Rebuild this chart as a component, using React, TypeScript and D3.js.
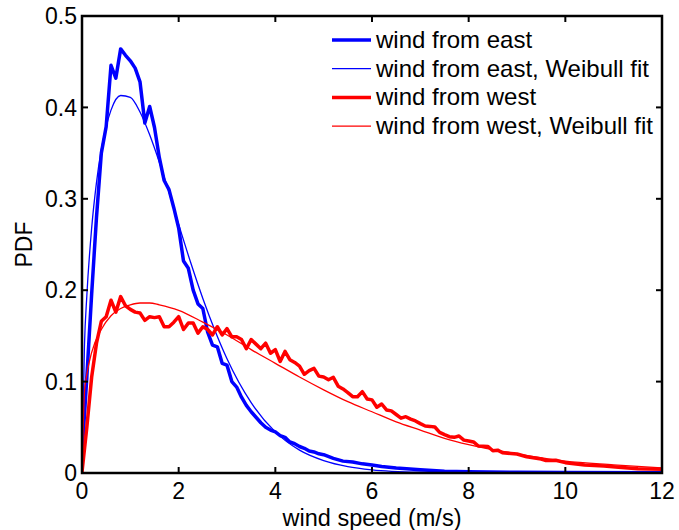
import React from 'react';
import * as d3 from 'd3';

// wind from east, histogram pdf
const eastSpeed = [0, 0.1, 0.2, 0.3, 0.4, 0.5, 0.6, 0.7, 0.8, 0.9, 1.0, 1.1, 1.2, 1.3, 1.4, 1.5, 1.6, 1.7, 1.8, 1.9, 2.0, 2.1, 2.2, 2.3, 2.4, 2.5, 2.6, 2.7, 2.8, 2.9, 3.0, 3.1, 3.2, 3.3, 3.4, 3.5, 3.6, 3.7, 3.8, 3.9, 4.0, 4.1, 4.2, 4.3, 4.4, 4.5, 4.6, 4.7, 4.8, 4.9, 5.0, 5.2, 5.4, 5.6, 5.8, 6.0, 6.2, 6.5, 7.0, 7.5, 8, 9, 10, 12];
const eastPdf = [0.02, 0.105, 0.196, 0.28, 0.35, 0.379, 0.446, 0.432, 0.464, 0.457, 0.451, 0.443, 0.428, 0.383, 0.401, 0.378, 0.345, 0.32, 0.31, 0.29, 0.268, 0.232, 0.224, 0.2, 0.185, 0.18, 0.154, 0.14, 0.138, 0.12, 0.118, 0.1, 0.094, 0.083, 0.074, 0.067, 0.061, 0.055, 0.05, 0.047, 0.045, 0.041, 0.039, 0.034, 0.032, 0.029, 0.027, 0.024, 0.023, 0.021, 0.02, 0.016, 0.013, 0.012, 0.01, 0.0088, 0.0072, 0.0055, 0.0035, 0.002, 0.0015, 0.0008, 0.0005, 0.0002];

// wind from east, Weibull fit
const eastFitSpeed = [0, 0.05, 0.1, 0.2, 0.3, 0.4, 0.5, 0.6, 0.8, 1.0, 1.2, 1.4, 1.6, 1.8, 2.0, 2.25, 2.5, 2.75, 3.0, 3.5, 4.0, 4.5, 5.0, 5.5, 6.0, 7.0, 8.0, 10, 12];
const eastFitPdf = [0, 0.138, 0.194, 0.268, 0.318, 0.354, 0.379, 0.397, 0.413, 0.411, 0.395, 0.37, 0.34, 0.307, 0.272, 0.23, 0.191, 0.156, 0.125, 0.077, 0.045, 0.025, 0.0136, 0.007, 0.0035, 0.0008, 0.0001, 0, 0];

// wind from west, histogram pdf
const westSpeed = [0, 0.1, 0.2, 0.3, 0.4, 0.5, 0.6, 0.7, 0.8, 0.9, 1.0, 1.1, 1.2, 1.3, 1.4, 1.5, 1.6, 1.7, 1.8, 1.9, 2.0, 2.1, 2.2, 2.3, 2.4, 2.5, 2.6, 2.7, 2.8, 2.9, 3.0, 3.1, 3.2, 3.3, 3.4, 3.5, 3.6, 3.7, 3.8, 3.9, 4.0, 4.1, 4.2, 4.3, 4.4, 4.5, 4.6, 4.7, 4.8, 4.9, 5.0, 5.1, 5.2, 5.3, 5.4, 5.5, 5.6, 5.7, 5.8, 5.9, 6.0, 6.1, 6.2, 6.3, 6.4, 6.5, 6.6, 6.7, 6.8, 6.9, 7.0, 7.1, 7.2, 7.3, 7.4, 7.5, 7.6, 7.7, 7.8, 7.9, 8.0, 8.1, 8.2, 8.4, 8.5, 8.6, 8.7, 9.0, 9.2, 9.5, 9.6, 9.8, 10.0, 10.4, 10.8, 11.1, 11.5, 12];
const westPdf = [0.001, 0.05, 0.105, 0.142, 0.166, 0.171, 0.189, 0.176, 0.193, 0.183, 0.179, 0.176, 0.175, 0.167, 0.171, 0.17, 0.171, 0.16, 0.16, 0.165, 0.171, 0.157, 0.164, 0.164, 0.153, 0.16, 0.157, 0.151, 0.16, 0.151, 0.158, 0.149, 0.149, 0.146, 0.136, 0.146, 0.141, 0.136, 0.142, 0.131, 0.135, 0.122, 0.133, 0.124, 0.121, 0.117, 0.108, 0.112, 0.1145, 0.106, 0.105, 0.102, 0.1047, 0.095, 0.092, 0.088, 0.0835, 0.0835, 0.089, 0.081, 0.08, 0.072, 0.0755, 0.069, 0.068, 0.064, 0.06, 0.0616, 0.059, 0.057, 0.054, 0.0514, 0.051, 0.0503, 0.0445, 0.042, 0.0397, 0.039, 0.0405, 0.036, 0.035, 0.034, 0.0295, 0.029, 0.0244, 0.025, 0.0222, 0.0208, 0.0178, 0.0153, 0.0136, 0.014, 0.0113, 0.0088, 0.0077, 0.0062, 0.0046, 0.004];

// wind from west, Weibull fit
const westFitSpeed = [0, 0.05, 0.1, 0.2, 0.4, 0.6, 0.8, 1.0, 1.2, 1.4, 1.6, 2.0, 2.5, 3.0, 3.5, 4.0, 4.5, 5.0, 5.5, 6.0, 6.5, 7.0, 7.5, 8.0, 9.0, 10, 11, 12];
const westFitPdf = [0, 0.088, 0.108, 0.132, 0.157, 0.172, 0.18, 0.184, 0.186, 0.186, 0.184, 0.178, 0.165, 0.151, 0.135, 0.12, 0.105, 0.091, 0.078, 0.067, 0.056, 0.047, 0.038, 0.031, 0.021, 0.013, 0.009, 0.0055];

const xTicks = [0, 2, 4, 6, 8, 10, 12];
const yTicks = [0, 0.1, 0.2, 0.3, 0.4, 0.5];
const yTickLabels = ['0', '0.1', '0.2', '0.3', '0.4', '0.5'];

const legendLabels = ['wind from east', 'wind from east, Weibull fit', 'wind from west', 'wind from west, Weibull fit'];

const zip = (xs: number[], ys: number[]) => xs.map((x, i) => [x, ys[i]] as [number, number]);

export default function App() {
    const width = 679;
    const height = 530;
    const margin = { left: 82, right: 17, top: 16, bottom: 57 };
    const font = '"Liberation Sans", Arial, Helvetica, sans-serif';

    const x = d3.scaleLinear().domain([0, 12]).range([margin.left, width - margin.right]);
    const y = d3.scaleLinear().domain([0, 0.5]).range([height - margin.bottom, margin.top]);

    const line = d3.line<[number, number]>().x(d => x(d[0])).y(d => y(d[1]));
    const smooth = d3.line<[number, number]>().x(d => x(d[0])).y(d => y(d[1])).curve(d3.curveMonotoneX);

    const series = [
        { d: line(zip(eastSpeed, eastPdf)), color: '#0000ff', w: 3.5 },
        { d: smooth(zip(eastFitSpeed, eastFitPdf)), color: '#0000ff', w: 1.3 },
        { d: line(zip(westSpeed, westPdf)), color: '#ff0000', w: 3.5 },
        { d: smooth(zip(westFitSpeed, westFitPdf)), color: '#ff0000', w: 1.3 },
    ];

    const x0 = margin.left;
    const x1 = width - margin.right;
    const y0 = height - margin.bottom;
    const y1 = margin.top;
    const tickLen = 6;

    return (
        <svg width={width} height={height} style={{ position: 'absolute', left: 0, top: 0, background: '#fff' }}>
            <defs>
                <clipPath id="plot">
                    <rect x={x0} y={y1} width={x1 - x0} height={y0 - y1} />
                </clipPath>
            </defs>

            <g clipPath="url(#plot)">
                {series.map((s, i) => (
                    <path key={i} d={s.d || ''} fill="none" stroke={s.color} strokeWidth={s.w} strokeLinejoin="round" />
                ))}
            </g>

            {/* frame */}
            <rect x={x0} y={y1} width={x1 - x0} height={y0 - y1} fill="none" stroke="#000" strokeWidth={2.5} />

            {/* ticks, inward on all sides */}
            {xTicks.map(t => (
                <g key={'x' + t}>
                    <line x1={x(t)} x2={x(t)} y1={y0} y2={y0 - tickLen} stroke="#000" strokeWidth={2} />
                    <line x1={x(t)} x2={x(t)} y1={y1} y2={y1 + tickLen} stroke="#000" strokeWidth={2} />
                    <text x={x(t)} y={y0 + 26} textAnchor="middle" fontSize={23} fontFamily={font} fill="#000">{t}</text>
                </g>
            ))}
            {yTicks.map((t, i) => (
                <g key={'y' + t}>
                    <line x1={x0} x2={x0 + tickLen} y1={y(t)} y2={y(t)} stroke="#000" strokeWidth={2} />
                    <line x1={x1} x2={x1 - tickLen} y1={y(t)} y2={y(t)} stroke="#000" strokeWidth={2} />
                    <text x={x0 - 5} y={y(t)} dy="0.36em" textAnchor="end" fontSize={23} fontFamily={font} fill="#000">{yTickLabels[i]}</text>
                </g>
            ))}

            {/* axis titles */}
            <text x={(x0 + x1) / 2} y={y0 + 53} textAnchor="middle" fontSize={23.5} fontFamily={font} fill="#000">wind speed (m/s)</text>
            <text x={32} y={(y0 + y1) / 2} textAnchor="middle" fontSize={23} fontFamily={font} fill="#000"
                transform={`rotate(-90, 32, ${(y0 + y1) / 2})`}>PDF</text>

            {/* legend */}
            {legendLabels.map((label, i) => {
                const ly = 40 + i * 28.7;
                return (
                    <g key={label}>
                        <line x1={332} x2={371} y1={ly} y2={ly} stroke={series[i].color} strokeWidth={series[i].w} />
                        <text x={376} y={ly + 8} fontSize={24} fontFamily={font} fill="#000">{label}</text>
                    </g>
                );
            })}
        </svg>
    );
}
